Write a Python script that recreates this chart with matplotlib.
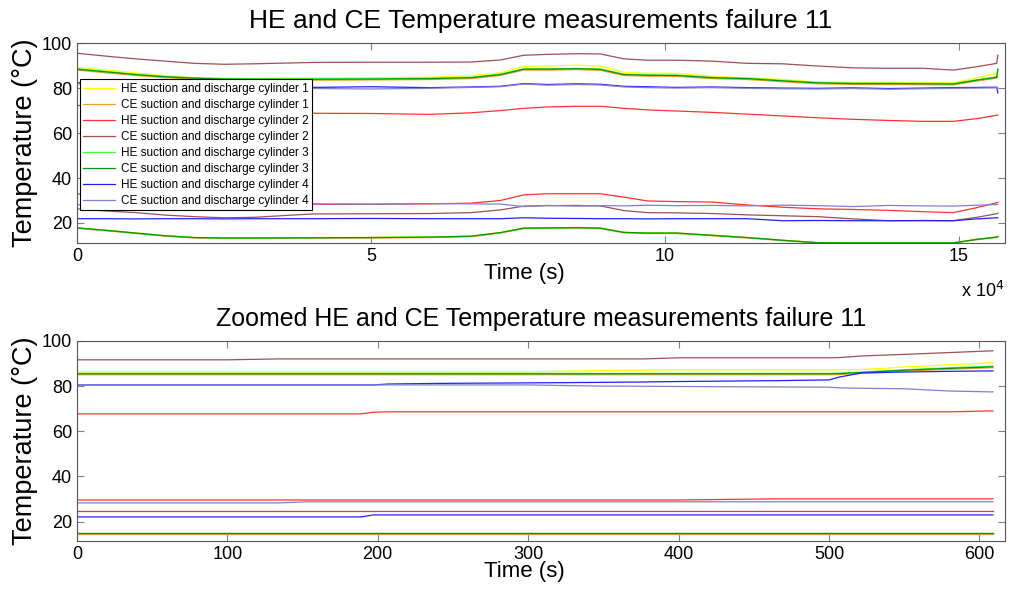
import numpy as np
import matplotlib.pyplot as plt

plt.rcParams['font.family'] = ['Liberation Sans', 'DejaVu Sans']

labels = ['HE suction and discharge cylinder 1', 'CE suction and discharge cylinder 1',
          'HE suction and discharge cylinder 2', 'CE suction and discharge cylinder 2',
          'HE suction and discharge cylinder 3', 'CE suction and discharge cylinder 3',
          'HE suction and discharge cylinder 4', 'CE suction and discharge cylinder 4']
colors = ['#ffff00', '#f0a030', '#ff3030', '#a05050', '#40ff40', '#109010', '#2020ff', '#8080d0']

# full record, time in units of 1e4 s
t_full = [0, 0.5, 1.0, 1.5, 2.0, 2.5, 3.0, 4.0, 5.0, 6.0, 6.7, 7.2, 7.6, 8.0, 8.5,
          8.9, 9.3, 9.7, 10.2, 10.8, 11.4, 12.0, 12.6, 13.2, 13.8, 14.4, 14.9, 15.3, 15.64, 15.66]

he1_dis = [89.3, 88.0, 86.8, 85.5, 84.6, 84.4, 84.4, 84.5, 84.6, 84.8, 85.5, 86.8, 89.7, 89.8, 90.2,
           89.8, 87.0, 86.6, 86.6, 85.2, 84.6, 83.8, 82.7, 82.6, 82.6, 82.4, 82.3, 84.5, 86.6, 87.0]
ce1_dis = [88.0, 86.8, 85.6, 84.6, 84.0, 83.6, 83.5, 83.5, 83.6, 83.8, 84.2, 85.6, 88.0, 88.0, 88.2,
           87.9, 85.6, 85.3, 85.2, 84.2, 83.8, 82.8, 81.9, 81.6, 81.6, 81.5, 81.4, 83.1, 84.4, 85.0]
he3_dis = [88.6, 87.4, 86.2, 85.2, 84.6, 84.2, 84.1, 84.1, 84.2, 84.4, 84.8, 86.2, 88.6, 88.6, 88.8,
           88.5, 86.2, 85.9, 85.8, 84.8, 84.4, 83.4, 82.5, 82.2, 82.2, 82.1, 82.0, 83.7, 85.0, 88.0]
ce3_dis = [88.4, 87.2, 86.0, 85.0, 84.4, 84.0, 83.9, 83.9, 84.0, 84.2, 84.6, 86.0, 88.4, 88.4, 88.6,
           88.3, 86.0, 85.7, 85.6, 84.6, 84.2, 83.2, 82.3, 82.0, 82.0, 81.9, 81.8, 83.5, 84.8, 88.4]
he2_dis = [72.3, 71.5, 70.8, 70.2, 69.6, 69.2, 69.0, 68.8, 68.7, 68.3, 69.0, 70.0, 71.0, 71.6, 71.9,
           71.9, 71.0, 70.3, 69.8, 69.2, 68.4, 67.6, 66.8, 66.1, 65.6, 65.2, 65.2, 66.4, 67.9, 68.0]
ce2_dis = [95.5, 94.2, 93.0, 92.0, 91.0, 90.6, 90.8, 91.4, 91.5, 91.5, 91.6, 92.5, 94.6, 95.0, 95.3,
           95.2, 93.0, 92.4, 92.4, 92.0, 91.0, 90.8, 89.8, 89.0, 88.8, 88.8, 88.0, 89.5, 91.0, 94.6]
he4_dis = [82.5, 80.8, 80.6, 80.5, 80.6, 80.4, 80.5, 80.3, 80.6, 80.2, 80.5, 80.8, 82.0, 81.6, 81.9,
           81.7, 80.8, 80.6, 80.3, 80.5, 80.2, 80.0, 79.9, 80.1, 79.8, 80.0, 80.2, 80.3, 80.4, 77.8]
ce4_dis = [82.0, 80.6, 80.4, 80.2, 80.3, 80.1, 80.2, 79.8, 79.6, 79.9, 80.3, 80.6, 81.8, 81.3, 81.6,
           81.4, 80.5, 80.2, 80.0, 80.2, 79.9, 79.7, 79.6, 79.8, 79.5, 79.7, 79.9, 80.0, 80.1, 80.0]

he1_suc = [17.9, 16.8, 15.6, 14.4, 13.6, 13.4, 13.4, 13.5, 13.6, 13.8, 14.2, 15.8, 17.8, 17.9, 18.0,
           17.8, 15.9, 15.6, 15.6, 14.6, 13.6, 12.4, 11.3, 11.2, 11.2, 11.1, 11.1, 12.8, 13.8, 14.0]
ce1_suc = [17.6, 16.5, 15.3, 14.1, 13.3, 13.1, 13.1, 13.2, 13.3, 13.5, 13.9, 15.5, 17.5, 17.6, 17.7,
           17.5, 15.6, 15.3, 15.3, 14.3, 13.3, 12.1, 11.2, 11.1, 11.1, 11.1, 11.1, 12.5, 13.6, 13.8]
he3_suc = [17.8, 16.7, 15.5, 14.3, 13.5, 13.3, 13.3, 13.4, 13.5, 13.7, 14.1, 15.7, 17.7, 17.8, 17.9,
           17.7, 15.8, 15.5, 15.5, 14.5, 13.5, 12.3, 11.2, 11.1, 11.1, 11.1, 11.1, 12.7, 13.7, 13.9]
ce3_suc = [17.8, 16.7, 15.5, 14.3, 13.5, 13.3, 13.3, 13.4, 13.5, 13.7, 14.1, 15.7, 17.7, 17.8, 17.9,
           17.7, 15.8, 15.5, 15.5, 14.5, 13.5, 12.3, 11.2, 11.1, 11.1, 11.1, 11.1, 12.7, 13.7, 13.9]
he2_suc = [33.0, 32.0, 31.0, 30.2, 29.5, 29.0, 28.6, 28.3, 28.3, 28.5, 28.8, 30.0, 32.5, 33.0, 33.0,
           33.0, 31.5, 29.8, 29.5, 29.3, 28.0, 27.0, 26.3, 26.0, 25.6, 25.0, 24.6, 26.8, 29.0, 29.2]
ce2_suc = [26.3, 25.3, 24.6, 23.5, 22.8, 22.3, 22.5, 24.0, 24.1, 24.2, 24.6, 25.8, 27.5, 27.7, 27.8,
           27.6, 25.5, 24.6, 24.5, 24.2, 23.6, 23.2, 22.8, 21.8, 21.0, 21.0, 21.0, 22.5, 24.1, 24.3]
he4_suc = [21.9, 21.9, 21.8, 21.9, 21.9, 21.8, 21.9, 21.9, 22.0, 21.9, 21.9, 21.9, 22.3, 22.1, 22.0,
           21.9, 21.9, 21.8, 21.9, 21.9, 21.9, 21.0, 21.1, 21.0, 21.0, 21.1, 21.0, 21.8, 22.3, 22.3]
ce4_suc = [28.1, 28.0, 28.2, 28.3, 28.2, 28.4, 28.3, 28.5, 28.4, 28.6, 28.5, 28.4, 27.3, 27.8, 27.5,
           27.7, 27.6, 27.9, 27.7, 27.8, 27.6, 27.9, 27.7, 27.3, 27.8, 27.6, 27.5, 27.9, 28.2, 28.3]

# zoomed record, time in s
t_zoom = [0, 100, 134, 153, 189, 197, 207, 246, 300, 345, 377, 400, 466, 500, 507, 522, 550, 580, 609]

z_he1_dis = [86.3, 86.3, 86.3, 86.3, 86.3, 86.3, 86.3, 86.3, 86.3, 86.8, 87.0, 87.2, 87.2, 87.2, 87.2, 87.3, 88.4, 89.4, 90.3]
z_ce1_dis = [85.0, 85.0, 85.0, 85.0, 85.0, 85.0, 85.0, 85.0, 85.0, 85.0, 85.0, 85.0, 85.0, 85.0, 85.1, 85.6, 86.6, 87.4, 88.1]
z_he3_dis = [85.6, 85.6, 85.6, 85.6, 85.6, 85.6, 85.6, 85.6, 85.6, 85.6, 85.6, 85.6, 85.6, 85.6, 85.7, 86.2, 87.2, 88.1, 88.8]
z_ce3_dis = [85.4, 85.4, 85.4, 85.4, 85.4, 85.4, 85.4, 85.4, 85.4, 85.4, 85.4, 85.4, 85.4, 85.4, 85.5, 86.0, 87.0, 87.8, 88.5]
z_he2_dis = [67.7, 67.7, 67.7, 67.7, 67.7, 68.4, 68.6, 68.6, 68.6, 68.6, 68.6, 68.6, 68.6, 68.6, 68.6, 68.6, 68.6, 68.6, 69.0]
z_ce2_dis = [91.6, 91.6, 92.0, 92.0, 92.0, 92.0, 92.0, 92.0, 92.0, 92.0, 92.0, 92.5, 92.5, 92.5, 92.6, 93.3, 94.0, 94.8, 95.6]
z_he4_dis = [80.5, 80.5, 80.5, 80.5, 80.5, 80.5, 80.9, 81.2, 81.4, 81.6, 81.8, 82.0, 82.4, 82.7, 84.0, 85.8, 86.2, 86.5, 86.7]
z_ce4_dis = [80.5, 80.5, 80.5, 80.5, 80.5, 80.5, 80.5, 80.5, 80.5, 80.0, 79.9, 79.8, 79.6, 79.5, 79.2, 79.0, 78.8, 77.8, 77.4]

z_he1_suc = [14.8] * 19
z_ce1_suc = [14.6] * 19
z_he3_suc = [14.8] * 19
z_ce3_suc = [15.0] * 19
z_he2_suc = [29.6, 29.6, 29.6, 29.6, 29.6, 29.6, 29.6, 29.6, 29.6, 29.6, 29.6, 29.6, 30.1, 30.1, 30.1, 30.1, 30.1, 30.1, 30.1]
z_ce2_suc = [24.8] * 19
z_he4_suc = [22.1, 22.1, 22.1, 22.1, 22.1, 23.0, 23.0, 23.0, 23.0, 23.0, 23.0, 23.0, 23.0, 23.0, 23.0, 23.0, 23.0, 23.0, 23.0]
z_ce4_suc = [28.3, 28.3, 28.3, 28.8, 28.8, 28.8, 28.8, 28.8, 28.8, 28.8, 28.8, 28.8, 28.8, 28.8, 28.8, 28.8, 28.8, 28.8, 28.8]

full_pairs = [(he1_suc, he1_dis), (ce1_suc, ce1_dis), (he2_suc, he2_dis), (ce2_suc, ce2_dis),
              (he3_suc, he3_dis), (ce3_suc, ce3_dis), (he4_suc, he4_dis), (ce4_suc, ce4_dis)]
zoom_pairs = [(z_he1_suc, z_he1_dis), (z_ce1_suc, z_ce1_dis), (z_he2_suc, z_he2_dis), (z_ce2_suc, z_ce2_dis),
              (z_he3_suc, z_he3_dis), (z_ce3_suc, z_ce3_dis), (z_he4_suc, z_he4_dis), (z_ce4_suc, z_ce4_dis)]

fig = plt.figure(figsize=(10.12, 5.99), dpi=100)
ax1 = fig.add_axes([0.076, 0.594, 0.917, 0.334])
ax2 = fig.add_axes([0.076, 0.097, 0.917, 0.334])

for i in range(8):
    suc, dis = full_pairs[i]
    ax1.plot(t_full, suc, color=colors[i], lw=0.9, label=labels[i])
    ax1.plot(t_full, dis, color=colors[i], lw=0.9)
    zsuc, zdis = zoom_pairs[i]
    ax2.plot(t_zoom, zsuc, color=colors[i], lw=0.9)
    ax2.plot(t_zoom, zdis, color=colors[i], lw=0.9)

def style(ax, title, tsize):
    ax.set_title(title, fontsize=tsize, pad=11)
    ax.set_xlabel('Time (s)', fontsize=16, labelpad=0)
    ax.xaxis.set_label_coords(0.482, -0.1, transform=ax.transAxes)
    ax.set_ylabel('Temperature (\u00b0C)', fontsize=19.5, labelpad=3)
    ax.set_yticks([20, 40, 60, 80, 100])
    ax.tick_params(direction='in', top=True, right=True, labelsize=13, color='#808080', length=5)
    for s in ax.spines.values():
        s.set_color('#555555')
        s.set_linewidth(0.8)

ax1.set_xlim(0, 15.78)
ax1.set_ylim(11, 100)
ax1.set_xticks([0, 5, 10, 15])
style(ax1, 'HE and CE Temperature measurements failure 11', 19)
ax1.text(1.0, -0.19, 'x 10$^4$', transform=ax1.transAxes, ha='right', va='top', fontsize=13)

ax2.set_xlim(0, 617)
ax2.set_ylim(11.5, 100)
ax2.set_xticks([0, 100, 200, 300, 400, 500, 600])
style(ax2, 'Zoomed HE and CE Temperature measurements failure 11', 18)

leg = ax1.legend(loc='upper left', bbox_to_anchor=(0.003, 0.82), borderaxespad=0, fontsize=8.5,
                 fancybox=False, framealpha=1, edgecolor='black', handlelength=2.7,
                 labelspacing=0.34, borderpad=0.3, handletextpad=0.5)
leg.get_frame().set_linewidth(0.8)

fig.savefig('out.png', dpi=100)
